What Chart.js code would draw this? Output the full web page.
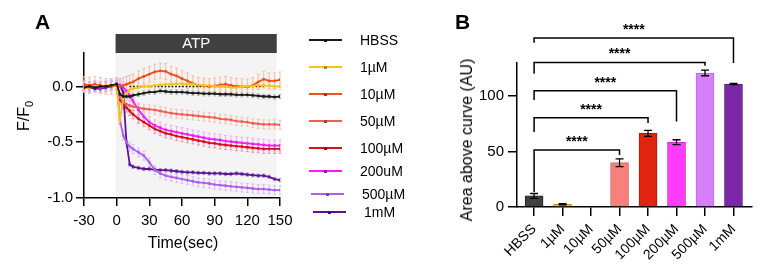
<!DOCTYPE html>
<html lang="en">
<head>
    <meta charset="UTF-8">
    <title>ATP response</title>
    <script src="https://cdn.jsdelivr.net/npm/chart.js"></script>
    <style>
        body { margin: 0; background: #fff; font-family: "Liberation Sans", Arial, sans-serif; color: #000; }
        #wrap { position: relative; width: 767px; height: 272px; overflow: hidden; }
        canvas { position: absolute; top: 0; }
        #chartA { left: 0; }
        #chartB { left: 400px; }
        .panel-label { position: absolute; font-size: 21px; font-weight: bold; line-height: 21px; }
        .axis-title { position: absolute; font-size: 16px; white-space: nowrap; transform: translate(-50%, -50%); }
        .axis-title.rot { transform: translate(-50%, -50%) rotate(-90deg); }
        .leg-line { position: absolute; width: 33px; height: 2px; }
        .leg-dot { position: absolute; width: 3px; height: 3px; left: 15px; top: -0.5px; }
        .leg-text { position: absolute; font-size: 14px; line-height: 16px; transform: translateY(-50%); white-space: nowrap; }
    </style>
</head>
<body>
<div id="wrap">
    <canvas id="chartA" width="300" height="272"></canvas>
    <canvas id="chartB" width="367" height="272"></canvas>
    <div class="panel-label" style="left:35px; top:11px;">A</div>
    <div class="panel-label" style="left:455px; top:11px;">B</div>
    <div class="axis-title rot" style="left:25px; top:116px;">F/F<sub style="font-size:11px;">0</sub></div>
    <div class="axis-title" style="left:183px; top:243px;">Time(sec)</div>
    <div class="axis-title rot" style="left:467px; top:140px;">Area above curve (AU)</div>
    <div id="legend"></div>
</div>

<script>
    // ---- panel A: time course ----
    const timeSec = [-30, -25, -20, -15, -10, -5, 0, 3, 6, 9, 12, 15, 20, 25, 30, 35, 40, 45, 50, 55, 60, 65, 70, 75, 80, 85, 90, 95, 100, 105, 110, 115, 120, 125, 130, 135, 140, 145, 150];

    const hbss = [-0.01, 0, -0.01, 0, 0, 0.01, 0.02, -0.07, -0.09, -0.09, -0.09, -0.08, -0.07, -0.06, -0.05, -0.05, -0.04, -0.045, -0.05, -0.05, -0.05, -0.055, -0.06, -0.06, -0.065, -0.065, -0.065, -0.07, -0.07, -0.07, -0.075, -0.075, -0.075, -0.08, -0.085, -0.09, -0.09, -0.095, -0.09];
    const atp1uM = [-0.02, -0.01, 0, 0, 0.01, 0.01, 0.01, -0.3, -0.11, -0.06, -0.03, -0.02, -0.01, 0, 0, 0.01, 0.015, 0.02, 0.02, 0.025, 0.025, 0.02, 0.02, 0.015, 0.01, 0.01, 0, 0, 0, -0.01, -0.01, 0, 0, 0.005, 0.01, 0.01, 0.005, 0, 0];
    const atp10uM = [0.02, 0.01, 0.02, 0.01, 0, 0, 0.01, 0, 0.01, 0.02, 0.03, 0.04, 0.07, 0.09, 0.11, 0.13, 0.14, 0.135, 0.11, 0.095, 0.07, 0.05, 0.025, 0.01, 0.005, 0, 0.005, 0.015, 0.02, 0.01, 0, 0, -0.005, 0.01, 0.04, 0.065, 0.05, 0.05, 0.06];
    const atp50uM = [0.01, 0, 0.01, 0, 0, 0.01, 0.01, -0.1, -0.14, -0.16, -0.17, -0.18, -0.19, -0.2, -0.205, -0.21, -0.22, -0.23, -0.24, -0.245, -0.25, -0.255, -0.26, -0.265, -0.27, -0.275, -0.28, -0.29, -0.295, -0.3, -0.31, -0.315, -0.32, -0.33, -0.335, -0.34, -0.34, -0.34, -0.345];
    const atp100uM = [0.01, 0, 0, 0, 0, 0.01, 0.01, -0.12, -0.16, -0.19, -0.22, -0.25, -0.29, -0.32, -0.35, -0.38, -0.4, -0.42, -0.43, -0.445, -0.455, -0.465, -0.475, -0.485, -0.495, -0.505, -0.51, -0.52, -0.525, -0.53, -0.535, -0.54, -0.545, -0.55, -0.555, -0.56, -0.56, -0.56, -0.56];
    const atp200uM = [0, -0.01, 0, -0.01, 0, 0.01, 0.02, 0.01, -0.01, -0.04, -0.08, -0.13, -0.21, -0.27, -0.32, -0.35, -0.37, -0.39, -0.4, -0.41, -0.42, -0.43, -0.44, -0.45, -0.46, -0.47, -0.475, -0.48, -0.49, -0.495, -0.5, -0.505, -0.51, -0.515, -0.52, -0.525, -0.53, -0.53, -0.53];
    const atp500uM = [0, -0.01, 0, -0.01, 0, 0.01, 0.02, -0.3, -0.44, -0.5, -0.54, -0.56, -0.59, -0.62, -0.68, -0.75, -0.78, -0.8, -0.81, -0.82, -0.83, -0.84, -0.85, -0.86, -0.865, -0.87, -0.88, -0.885, -0.89, -0.895, -0.9, -0.905, -0.91, -0.915, -0.92, -0.92, -0.925, -0.93, -0.93];
    const atp1mM = [0, -0.01, -0.02, -0.02, -0.01, 0, 0.02, 0.01, -0.05, -0.5, -0.7, -0.72, -0.73, -0.74, -0.74, -0.745, -0.75, -0.75, -0.755, -0.76, -0.765, -0.77, -0.77, -0.775, -0.775, -0.78, -0.78, -0.78, -0.785, -0.785, -0.78, -0.785, -0.79, -0.795, -0.8, -0.8, -0.81, -0.83, -0.84];

    const seriesNames = ['HBSS', '1µM', '10µM', '50µM', '100µM', '200uM', '500µM', '1mM'];
    const seriesValues = [hbss, atp1uM, atp10uM, atp50uM, atp100uM, atp200uM, atp500uM, atp1mM];
    const seriesSem = [0.02, 0.03, 0.07, 0.04, 0.04, 0.05, 0.04, 0.015];
    const lineColors = ['#1a1a1a', '#f7c21b', '#f0501c', '#ef5f55', '#d8101c', '#f51ef5', '#ad5ef0', '#5c1496'];
    const errColors = ['#b4b4b4', '#fbe08e', '#f9b79e', '#f8bcb4', '#f28aa0', '#f7a4f7', '#dab4f8', '#b496d4'];

    const yTicksA = [-1.0, -0.5, 0.0];
    const xTicksA = [-30, 0, 30, 60, 90, 120, 150];
    const atpWindow = [-1, 147];
    const zeroRefLine = [12, 135];

    // ---- panel B: area above curve ----
    const barLabels = ['HBSS', '1µM', '10µM', '50µM', '100µM', '200µM', '500µM', '1mM'];
    const barValues = [10, 2.5, 0, 40, 66.5, 58.5, 121, 111];
    const barErrors = [2.2, 0.5, 0, 3.5, 2.7, 2.2, 2.5, 0.5];
    const barColors = ['#404040', '#f2c230', '#f0c8c8', '#f7807a', '#e0240e', '#ff3cff', '#d680f7', '#7a28a8'];
    const barBorders = ['#222222', '#b89020', '#999999', '#d86a64', '#b01a08', '#d020d0', '#b868dc', '#5a1880'];
    const yTicksB = [0, 50, 100];

    // significance brackets: from HBSS (index 0) to target index
    const bracketTarget = [3, 4, 5, 6, 7];
    const bracketTop = [51.5, 80.5, 105, 130.5, 152.5];
    const bracketLeftEnd = [13.6, 67.8, 96.7, 120.3, 148.3];
    const bracketRightEnd = [47, 75.9, 77.1, 127.5, 130];
    const bracketText = ['****', '****', '****', '****', '****'];

    // legend layout
    const legendRowY = [40, 67, 94, 121, 148, 171, 194, 212];
    const legendShift = [0, 0, 0, 0, 0, 0, 2, 4];

    Chart.defaults.font.family = '"Liberation Sans", Arial, sans-serif';
    Chart.defaults.color = '#000';

    // html legend
    const legendBox = document.getElementById('legend');
    seriesNames.forEach((name, i) => {
        const line = document.createElement('div');
        line.className = 'leg-line';
        line.style.left = (309 + legendShift[i]) + 'px';
        line.style.top = (legendRowY[i] - 1) + 'px';
        line.style.background = lineColors[i];
        const dot = document.createElement('div');
        dot.className = 'leg-dot';
        dot.style.background = lineColors[i];
        dot.style.filter = 'brightness(0.7)';
        line.appendChild(dot);
        legendBox.appendChild(line);

        const txt = document.createElement('div');
        txt.className = 'leg-text';
        txt.style.left = (360 + legendShift[i]) + 'px';
        txt.style.top = legendRowY[i] + 'px';
        txt.textContent = name;
        legendBox.appendChild(txt);
    });

    const atpShading = {
        id: 'atpShading',
        beforeDraw(chart) {
            const {ctx, chartArea, scales: {x}} = chart;
            const x0 = x.getPixelForValue(atpWindow[0]);
            const x1 = x.getPixelForValue(atpWindow[1]);
            ctx.save();
            ctx.fillStyle = '#f4f4f4';
            ctx.fillRect(x0, chartArea.top, x1 - x0, chartArea.bottom - chartArea.top);
            ctx.fillStyle = '#404040';
            ctx.fillRect(x0, chartArea.top - 19, x1 - x0, 19);
            ctx.fillStyle = '#fff';
            ctx.font = '15px "Liberation Sans", Arial, sans-serif';
            ctx.textAlign = 'center';
            ctx.textBaseline = 'middle';
            ctx.fillText('ATP', (x0 + x1) / 2, chartArea.top - 9);
            ctx.restore();
        }
    };

    const errorBarsA = {
        id: 'errorBarsA',
        beforeDatasetsDraw(chart) {
            const {ctx, scales: {x, y}} = chart;
            ctx.save();
            ctx.lineWidth = 0.9;
            chart.data.datasets.forEach(ds => {
                if (ds.sem == null) return;
                ctx.strokeStyle = ds.errColor;
                ds.data.forEach(p => {
                    const px = x.getPixelForValue(p.x);
                    const yHi = y.getPixelForValue(p.y + ds.sem);
                    const yLo = y.getPixelForValue(p.y - ds.sem);
                    ctx.beginPath();
                    ctx.moveTo(px, yHi); ctx.lineTo(px, yLo);
                    ctx.moveTo(px - 1.5, yHi); ctx.lineTo(px + 1.5, yHi);
                    ctx.moveTo(px - 1.5, yLo); ctx.lineTo(px + 1.5, yLo);
                    ctx.stroke();
                });
            });
            ctx.restore();
        }
    };

    const datasetsA = seriesNames.map((name, i) => ({
        label: name,
        data: timeSec.map((t, k) => ({x: t, y: seriesValues[i][k]})),
        borderColor: lineColors[i],
        backgroundColor: lineColors[i],
        borderWidth: 1.8,
        pointRadius: 1.4,
        pointBorderWidth: 0,
        tension: 0,
        sem: seriesSem[i],
        errColor: errColors[i]
    }));
    datasetsA.push({
        label: 'zero',
        data: zeroRefLine.map(t => ({x: t, y: 0})),
        borderColor: '#000',
        borderWidth: 1.4,
        borderDash: [1.5, 2],
        pointRadius: 0
    });

    new Chart(document.getElementById('chartA'), {
        type: 'line',
        data: { datasets: datasetsA },
        options: {
            responsive: false,
            animation: false,
            layout: { padding: { top: 53, right: 20, left: 0, bottom: 0 } },
            plugins: { legend: { display: false }, tooltip: { enabled: false } },
            scales: {
                x: {
                    type: 'linear',
                    min: -30,
                    max: 150,
                    afterBuildTicks: s => { s.ticks = xTicksA.map(v => ({value: v})); },
                    afterFit: s => { s.height = 74; },
                    ticks: { font: { size: 15 }, padding: 6, maxRotation: 0 },
                    grid: { drawOnChartArea: false, tickLength: 8, color: '#000', lineWidth: 1.5 },
                    border: { color: '#000', width: 1.5 }
                },
                y: {
                    min: -1.0,
                    max: 0.3,
                    afterBuildTicks: s => { s.ticks = yTicksA.map(v => ({value: v})); },
                    afterFit: s => { s.width = 84; },
                    ticks: { font: { size: 15 }, padding: 3, callback: v => v.toFixed(1) },
                    grid: { drawOnChartArea: false, tickLength: 8, color: '#000', lineWidth: 1.5 },
                    border: { color: '#000', width: 1.5 }
                }
            }
        },
        plugins: [atpShading, errorBarsA]
    });

    const errorBarsB = {
        id: 'errorBarsB',
        afterDatasetsDraw(chart) {
            const {ctx, scales: {x, y}} = chart;
            ctx.save();
            ctx.strokeStyle = '#000';
            ctx.lineWidth = 1.3;
            barValues.forEach((v, i) => {
                if (!barErrors[i]) return;
                const px = x.getPixelForValue(i);
                const yHi = y.getPixelForValue(v + barErrors[i]);
                const yLo = y.getPixelForValue(v - barErrors[i]);
                ctx.beginPath();
                ctx.moveTo(px, yHi); ctx.lineTo(px, yLo);
                ctx.moveTo(px - 4, yHi); ctx.lineTo(px + 4, yHi);
                ctx.moveTo(px - 4, yLo); ctx.lineTo(px + 4, yLo);
                ctx.stroke();
            });
            ctx.restore();
        }
    };

    const brackets = {
        id: 'brackets',
        afterDraw(chart) {
            const {ctx, scales: {x, y}} = chart;
            ctx.save();
            ctx.strokeStyle = '#000';
            ctx.lineWidth = 1.5;
            ctx.fillStyle = '#000';
            ctx.font = 'bold 14px "Liberation Sans", Arial, sans-serif';
            ctx.textAlign = 'center';
            ctx.textBaseline = 'alphabetic';
            bracketTarget.forEach((t, i) => {
                const xl = x.getPixelForValue(0);
                const xr = x.getPixelForValue(t);
                const yt = y.getPixelForValue(bracketTop[i]);
                ctx.beginPath();
                ctx.moveTo(xl, y.getPixelForValue(bracketLeftEnd[i]));
                ctx.lineTo(xl, yt);
                ctx.lineTo(xr, yt);
                ctx.lineTo(xr, y.getPixelForValue(bracketRightEnd[i]));
                ctx.stroke();
                ctx.fillText(bracketText[i], (xl + xr) / 2, yt - 4);
            });
            ctx.restore();
        }
    };

    new Chart(document.getElementById('chartB'), {
        type: 'bar',
        data: {
            datasets: [{
                data: barValues.map((v, i) => ({x: i, y: v})),
                backgroundColor: barColors,
                borderColor: barBorders,
                borderWidth: 1,
                barThickness: 18
            }]
        },
        options: {
            responsive: false,
            animation: false,
            layout: { padding: { top: 63, right: 15, left: 0, bottom: 0 } },
            plugins: { legend: { display: false }, tooltip: { enabled: false } },
            scales: {
                x: {
                    type: 'linear',
                    min: -0.6,
                    max: 7.65,
                    offset: false,
                    afterBuildTicks: s => { s.ticks = barLabels.map((l, i) => ({value: i})); },
                    afterFit: s => { s.height = 65; },
                    ticks: {
                        font: { size: 14 },
                        padding: 5,
                        autoSkip: false,
                        minRotation: 45,
                        maxRotation: 45,
                        callback: v => barLabels[v]
                    },
                    grid: { drawOnChartArea: false, offset: false, tickLength: 9, color: '#000', lineWidth: 1.5 },
                    border: { color: '#000', width: 1.5 }
                },
                y: {
                    min: 0,
                    max: 130,
                    afterBuildTicks: s => { s.ticks = yTicksB.map(v => ({value: v})); },
                    afterFit: s => { s.width = 117; },
                    ticks: { font: { size: 15 }, padding: 4 },
                    grid: { drawOnChartArea: false, tickLength: 9, color: '#000', lineWidth: 1.5 },
                    border: { color: '#000', width: 1.5 }
                }
            }
        },
        plugins: [errorBarsB, brackets]
    });
</script>
</body>
</html>
